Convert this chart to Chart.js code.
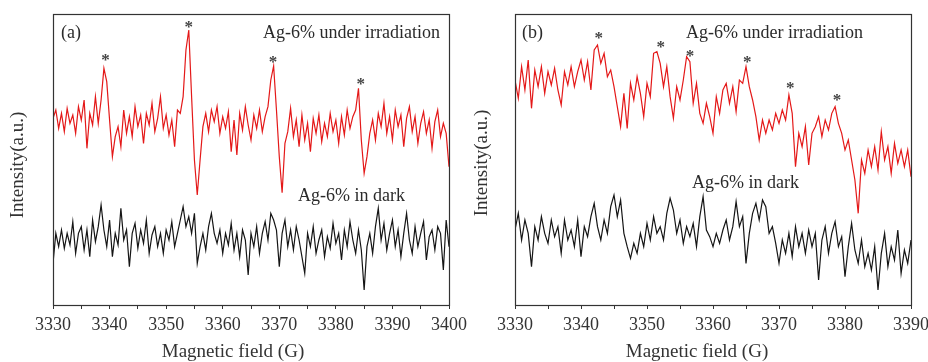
<!DOCTYPE html>
<html><head><meta charset="utf-8">
<script src="https://cdn.jsdelivr.net/npm/chart.js@4.4.1/dist/chart.umd.min.js"></script>
<style>
html,body{margin:0;padding:0;background:#fff;width:928px;height:362px;overflow:hidden}
canvas{position:absolute;top:0}
#ca{left:0;z-index:1}#cb{left:464px;z-index:2}
</style></head><body>
<canvas id="ca" width="480" height="362"></canvas>
<canvas id="cb" width="464" height="362"></canvas>
<script>
// Sweep grid of the spectrometer (Gauss)
const FIELD_START = 3330;
const FIELD_STEP = 0.5;

// Panel (a) tick labels
const xTicksA = [3330, 3340, 3350, 3360, 3370, 3380, 3390, 3400];
// Panel (b) tick labels
const xTicksB = [3330, 3340, 3350, 3360, 3370, 3380, 3390];

// Panel (a): Ag-6% under irradiation (a.u.)
const redA = [
560,585,530,575,520,590,545,570,515,595,
555,615,470,575,540,625,545,615,710,670,
555,445,505,535,475,585,515,565,505,595,
535,570,485,575,540,605,520,560,625,530,
570,510,555,475,585,575,625,765,825,625,
435,330,435,535,575,520,585,550,595,515,
565,530,580,460,555,450,575,525,595,540,
495,570,530,585,520,565,595,675,717,585,
445,337,485,520,590,505,555,475,570,495,
545,460,560,515,570,490,545,505,575,520,
555,485,565,510,585,530,565,585,650,495,
395,445,515,555,495,575,535,605,515,565,
495,585,535,570,475,560,595,520,565,485,
545,580,515,555,470,550,585,505,545,515,415
];
// Panel (a): Ag-6% in dark (a.u.)
const blackA = [
125,215,175,225,170,215,180,250,155,215,
235,165,225,145,255,190,235,300,225,175,
255,145,215,180,290,195,225,115,215,245,
170,225,185,255,155,210,235,175,215,155,
225,195,250,175,215,255,295,235,265,215,
275,125,175,215,165,235,275,215,185,225,
155,215,180,245,165,215,145,225,195,90,
215,175,235,155,215,250,195,275,255,225,
115,215,255,175,225,165,235,195,145,95,
215,175,235,155,195,225,145,205,170,245,
185,215,135,225,175,250,195,155,225,165,
45,175,215,155,235,290,195,245,165,215,
255,175,225,145,215,275,195,155,235,175,
215,250,135,205,225,165,235,215,105,255,175
];
// Panel (b): Ag-6% under irradiation (a.u.)
const redB = [
675,620,715,645,735,590,705,655,715,635,
700,660,710,645,600,700,660,715,655,700,
735,675,730,645,765,780,725,755,685,705,
655,595,535,635,530,665,615,685,635,565,
665,625,755,760,725,655,715,625,560,655,
615,675,745,730,605,665,575,545,605,565,
515,625,575,645,665,605,655,580,675,665,
715,655,615,565,495,555,515,555,525,575,
545,585,555,630,575,415,515,475,535,420,
515,535,565,505,555,525,575,595,545,515,
465,495,435,375,275,435,395,465,415,475,
405,520,435,475,395,485,425,465,415,465,385
];
// Panel (b): Ag-6% in dark (a.u.)
const blackB = [
225,275,195,255,215,115,235,195,265,215,
185,255,205,235,155,255,195,225,175,255,
145,235,205,265,305,235,195,255,215,295,
330,265,315,215,175,140,185,155,215,175,
245,195,265,215,235,195,275,320,285,215,
255,185,235,205,245,175,265,325,225,205,
175,215,185,225,255,195,235,310,235,265,
125,215,275,305,255,315,295,215,235,185,
125,195,155,215,145,235,175,215,155,225,
175,215,75,195,235,155,215,250,175,205,
85,175,245,165,125,195,115,155,105,175,
45,155,215,115,175,135,225,95,165,125,195
];

// Asterisk markers (field, intensity)
const starFieldA = [3339.3, 3354.0, 3368.9, 3384.4];
const starIntA   = [745, 845, 740, 673];
const starFieldB = [3342.7, 3352.1, 3356.5, 3365.2, 3371.7, 3378.8];
const starIntB   = [812, 785, 758, 740, 662, 625];

const SERIF = '"Liberation Serif", "Times New Roman", serif';
Chart.defaults.font.family = SERIF;
Chart.defaults.color = '#333';

function toPoints(vals){
  return vals.map((v,i)=>({x: FIELD_START + FIELD_STEP*i, y: v}));
}

const deco = {
  id: 'deco',
  afterDatasetsDraw(chart, args, opts){
    const {ctx, chartArea:a, scales:{x, y}} = chart;
    ctx.save();
    ctx.strokeStyle = '#333';
    ctx.lineWidth = 1.2;
    ctx.strokeRect(Math.round(a.left)+0.5, Math.round(a.top)+0.5, Math.round(a.right-a.left), Math.round(a.bottom-a.top));
    ctx.fillStyle = '#444';
    ctx.font = 'bold 17px ' + SERIF;
    ctx.textAlign = 'center';
    ctx.textBaseline = 'middle';
    opts.starX.forEach((g,i)=>{
      ctx.fillText('*', x.getPixelForValue(g), y.getPixelForValue(opts.starY[i]) + 4);
    });
    ctx.fillStyle = '#2a2a2a';
    opts.texts.forEach(t=>{
      ctx.font = t.size + 'px ' + SERIF;
      ctx.textAlign = t.align || 'left';
      ctx.fillText(t.text, a.left + t.dx, a.top + t.dy);
    });
    // axis titles
    ctx.fillStyle = '#333';
    ctx.font = '19px ' + SERIF;
    ctx.textAlign = 'center';
    ctx.fillText('Magnetic field (G)', opts.xTitleX, 352);
    ctx.translate(18, opts.yTitleY);
    ctx.rotate(-Math.PI/2);
    ctx.fillText('Intensity(a.u.)', 0, 0);
    ctx.restore();
  }
};

function makeChart(id, red, black, xmax, tickLabels, yWidth, padRight, starX, starY, texts, xTitleX, yTitleY){
  return new Chart(document.getElementById(id), {
    type: 'line',
    data: {
      datasets: [
        {data: toPoints(red), borderColor: 'rgb(228,24,24)', borderWidth: 1.2, pointRadius: 0, tension: 0},
        {data: toPoints(black), borderColor: '#151515', borderWidth: 1.2, pointRadius: 0, tension: 0}
      ]
    },
    options: {
      responsive: false,
      animation: false,
      devicePixelRatio: 1,
      layout: {padding: {top: 14, right: padRight, bottom: 0, left: 0}},
      plugins: {
        legend: {display: false},
        tooltip: {enabled: false},
        deco: {starX, starY, texts, xTitleX, yTitleY}
      },
      scales: {
        x: {
          type: 'linear', min: 3330, max: xmax,
          border: {display: false},
          grid: {display: true, drawOnChartArea: false, drawTicks: true, tickLength: 4, color: '#333', lineWidth: 1},
          ticks: {
            stepSize: 5, autoSkip: false, maxRotation: 0, padding: 5,
            font: {size: 18, family: SERIF}, color: '#333',
            callback: v => tickLabels.includes(v) ? String(v) : ''
          },
          title: {display: false},
          afterFit: s => { s.height = 57; s.paddingLeft = 0; s.paddingRight = 0; }
        },
        y: {
          type: 'linear', min: 0, max: 873,
          border: {display: false},
          grid: {display: false},
          ticks: {display: false},
          title: {display: false},
          afterFit: s => { s.width = yWidth; s.paddingTop = 0; s.paddingBottom = 0; }
        }
      }
    },
    plugins: [deco]
  });
}

makeChart('ca', redA, blackA, 3400, xTicksA, 53, 31, starFieldA, starIntA, [
  {text: '(a)', dx: 8, dy: 19, size: 18, align: 'left'},
  {text: 'Ag-6% under irradiation', dx: 387, dy: 19, size: 18, align: 'right'},
  {text: 'Ag-6% in dark', dx: 245, dy: 182, size: 18, align: 'left'}
], 233, 165);
makeChart('cb', redB, blackB, 3390, xTicksB, 51, 17, starFieldB, starIntB, [
  {text: '(b)', dx: 7, dy: 19, size: 18, align: 'left'},
  {text: 'Ag-6% under irradiation', dx: 171, dy: 19, size: 18, align: 'left'},
  {text: 'Ag-6% in dark', dx: 177, dy: 169, size: 18, align: 'left'}
], 233, 163);
</script>
</body></html>
